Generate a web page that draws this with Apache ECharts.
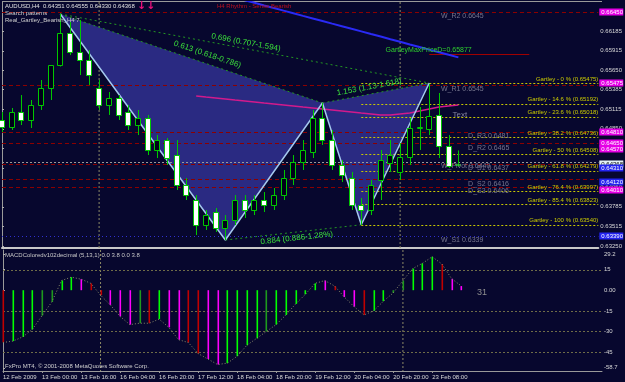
<!DOCTYPE html>
<html>
<head>
<meta charset="utf-8">
<script src="https://cdn.jsdelivr.net/npm/echarts/dist/echarts.min.js"></script>
<style>
html,body{margin:0;padding:0;background:#07072e;overflow:hidden}
#chart{width:625px;height:382px}
</style>
</head>
<body>
<div id="chart"></div>
<script>
// ---------------- data ----------------
const times = ['12 Feb 2009','12 Feb 12:00','12 Feb 16:00','12 Feb 20:00','13 Feb 00:00','13 Feb 04:00','13 Feb 08:00','13 Feb 12:00','13 Feb 16:00','13 Feb 20:00',
 '15 Feb 20:00','16 Feb 00:00','16 Feb 04:00','16 Feb 08:00','16 Feb 12:00','16 Feb 16:00','16 Feb 20:00','17 Feb 00:00','17 Feb 04:00','17 Feb 08:00',
 '17 Feb 12:00','17 Feb 16:00','17 Feb 20:00','18 Feb 00:00','18 Feb 04:00','18 Feb 08:00','18 Feb 12:00','18 Feb 16:00','18 Feb 20:00','19 Feb 00:00',
 '19 Feb 04:00','19 Feb 08:00','19 Feb 12:00','19 Feb 16:00','19 Feb 20:00','20 Feb 00:00','20 Feb 04:00','20 Feb 08:00','20 Feb 12:00','20 Feb 16:00',
 '20 Feb 20:00','22 Feb 20:00','23 Feb 00:00','23 Feb 04:00','23 Feb 08:00','23 Feb 12:00','23 Feb 16:00','23 Feb 20:00'];
const opens  = [0.64970,0.64875,0.65079,0.64970,0.65175,0.65407,0.65721,0.66158,0.65898,0.65789,0.65407,0.65175,0.65271,0.65079,0.64902,0.64997,0.64561,0.64697,0.64492,0.64083,
 0.63878,0.63537,0.63714,0.63496,0.63605,0.63878,0.63742,0.63878,0.63810,0.63946,0.64178,0.64397,0.64533,0.64997,0.64697,0.64356,0.64178,0.63810,0.63742,0.64151,
 0.64383,0.64260,0.64465,0.64861,0.64847,0.65039,0.64615,0.64351];
const highs  = [0.65079,0.65134,0.65311,0.65243,0.65516,0.65721,0.66417,0.66308,0.66335,0.65926,0.65516,0.65352,0.65311,0.65175,0.65107,0.65039,0.64765,0.64724,0.64697,0.64178,
 0.63946,0.63742,0.63769,0.63673,0.63946,0.63946,0.63946,0.63987,0.64042,0.64288,0.64492,0.64697,0.65107,0.65202,0.64834,0.64424,0.64260,0.63905,0.64151,0.64561,
 0.64697,0.64656,0.64997,0.65147,0.65462,0.65339,0.64765,0.64555];
const lows   = [0.64806,0.64834,0.64902,0.64861,0.65107,0.65243,0.65700,0.65857,0.65584,0.65448,0.65107,0.65039,0.64970,0.64834,0.64765,0.64492,0.64451,0.64356,0.64015,0.63878,
 0.63400,0.63469,0.63441,0.63332,0.63537,0.63632,0.63673,0.63714,0.63742,0.63878,0.64083,0.64288,0.64451,0.64629,0.64288,0.64124,0.63742,0.63537,0.63673,0.63878,
 0.64260,0.64151,0.64356,0.64561,0.64765,0.64451,0.64315,0.64330];
const closes = [0.64875,0.65079,0.64970,0.65175,0.65407,0.65721,0.66158,0.65898,0.65789,0.65584,0.65175,0.65271,0.65039,0.64902,0.64997,0.64561,0.64697,0.64451,0.64083,0.63946,
 0.63537,0.63673,0.63496,0.63605,0.63878,0.63742,0.63878,0.63810,0.63946,0.64178,0.64397,0.64561,0.64997,0.64697,0.64356,0.64219,0.63810,0.63742,0.64083,0.64424,
 0.64492,0.64465,0.64861,0.64875,0.65025,0.64615,0.64342,0.64368];
const maBlue = [null,null,null,null,null,null,null,null,null,null,null,null,null,null,null,null,null,null,null,null,null,null,null,null,
 0.66641,0.66606,0.66570,0.66534,0.66499,0.66463,0.66428,0.66392,0.66357,0.66322,0.66286,0.66251,0.66215,0.66180,0.66144,0.66109,0.66073,0.66038,0.66002,0.65967,0.65931,0.65896,0.65860,0.65825];
const maPink = [null,null,null,null,null,null,null,null,null,null,null,null,null,null,null,null,null,null,null,null,
 0.65298,0.65284,0.65271,0.65257,0.65243,0.65230,0.65216,0.65202,0.65189,0.65175,0.65161,0.65147,0.65134,0.65120,0.65107,0.65093,0.65079,0.65065,0.65052,0.65038,0.65038,0.65052,0.65065,0.65093,0.65120,0.65147,0.65161,0.65175];
const macdValues = [-38,-37,-34,-28.6,-18.5,-8.6,7,9.5,8,5,-3.6,-10.7,-19,-25,-24,-24,-21,-27,-36,-38,
 -46,-50,-54,-53,-48,-40,-35,-30,-25,-18,-10,-3,5,7,3,-5,-12,-18,-15,-8,-2,7,15.7,19.5,24.3,19,8.3,3];
const macdColors = ['R','L','L','L','G','G','L','L','M','R','R','M','M','M','G','R','L','M','M','R',
 'R','M','M','L','L','L','L','G','L','L','L','L','L','M','R','M','M','R','L','L','G','G','L','L','L','R','M','M'];
const priceTicks = [0.66185,0.65915,0.65650,0.65385,0.65115,0.64850,0.64585,0.64315,0.64050,0.63785,0.63515,0.63250];
const priceRange = [0.63223,0.66581];
const macdTicks = [15,0,-15,-30,-45];
const macdRange = [-58.7,29.2];
const timeLabelBars = [0,4,8,12,16,20,24,28,32,36,40,44];
const weekSeparators = [10,41];

// Gartley XABCD
const patternBars = [6,23,33,37,44];
const patternPrices = [0.66417,0.63332,0.65202,0.63540,0.65475];
const ratioPairs = [[0,2],[0,4],[2,4],[1,3]];
const ratioTexts = ['0.613 (0.618-0.786)','0.696 (0.707-1.594)','1.153 (1.13-1.618)','0.884 (0.886-1.28%)'];
const fibNames = ['0','14.6','23.6','38.2','50','61.8','76.4','85.4','100'];
const fibPrices = [0.65475,0.65192,0.65018,0.64736,0.64508,0.64279,0.63997,0.63823,0.63540];
const fibStartBar = 37;
const maxPriceD = 0.65877;

// pivots
const pivotNames  = ['W_R2','W_R1','D_R3','D_R2','W_Pivot','D_S1','D_S2','D_S3','W_S1'];
const pivotPrices = [0.6645,0.6545,0.6481,0.6465,0.6440,0.6437,0.6416,0.6406,0.6339];
const pivotKinds  = ['W','W','D','D','P','D','D','D','S'];

// price boxes on the axis
const boxPrices = [0.66450,0.65475,0.64810,0.64650,0.64570,0.64368,0.64310,0.64120,0.64010,0.63390];
const boxKinds  = ['M','M','M','M','M','W','B','B','M','B'];

// ---------------- layout / style ----------------
const FONT = 'Liberation Sans, Arial, sans-serif';
const BG = '#07072e';
const N = opens.length;
const XMAX = 61.41;
const gridMain = {left:2, top:2, width:600, height:246};
const gridMacd = {left:2, top:250, width:600, height:121};
const macdColorMap = {L:'#00ff00', G:'#1e9a1e', R:'#c00000', M:'#ff00ff'};
const boxColorMap = {M:'#e600e6', B:'#2424f0', W:'#e4f2f6'};

const chart = echarts.init(document.getElementById('chart'));

const candleData = opens.map((o,i)=>[i,o,closes[i],lows[i],highs[i]]);
const triData = [
  [patternBars[0],patternPrices[0],patternBars[1],patternPrices[1],patternBars[2],patternPrices[2]],
  [patternBars[2],patternPrices[2],patternBars[3],patternPrices[3],patternBars[4],patternPrices[4]]
];
const ratioData = ratioPairs.map(p=>[patternBars[p[0]],patternPrices[p[0]],patternBars[p[1]],patternPrices[p[1]]]);
const ratioPlace = [[0.55,9],[0.50,6],[0.45,7],[0.52,-6]];

const levelStyles = {
  W:{stroke:'#8b0000', lineDash:[4,3]},
  D:{stroke:'#8b0000', lineDash:[4,3]},
  P:{stroke:'#9a9a9a', lineDash:[2,2]},
  S:{stroke:'#3030d0', lineDash:[1,3]},
  F:{stroke:'#c8c800', lineDash:[2,2]},
  X:{stroke:'#a00000', lineDash:null}
};
const levelData = [];
const levelKinds = [];
pivotPrices.forEach((p,i)=>{ levelData.push([0,XMAX,p]); levelKinds.push(pivotKinds[i]); });
fibPrices.forEach(p=>{ levelData.push([fibStartBar,XMAX,p]); levelKinds.push('F'); });
levelData.push([44,54.3,maxPriceD]); levelKinds.push('X');

const annoData = [], annoText = [], annoStyle = [];
pivotNames.forEach((n,i)=>{
  annoData.push([pivotKinds[i]==='D'?48:45.2, pivotPrices[i]]);
  annoText.push(n+' '+pivotPrices[i].toFixed(4));
  annoStyle.push({fill:'#76768e', fontSize:7, align:'left', verticalAlign:'top', dy:1});
});
fibNames.forEach((n,i)=>{
  annoData.push([XMAX, fibPrices[i]]);
  annoText.push('Gartley - '+n+' % ('+fibPrices[i].toFixed(5)+')');
  annoStyle.push({fill:'#cccc00', fontSize:6, align:'right', verticalAlign:'bottom', dy:-1});
});
annoData.push([39.5, maxPriceD]); annoText.push('GartleyMaxPriceD='+maxPriceD.toFixed(5));
annoStyle.push({fill:'#2ed02e', fontSize:7, align:'left', verticalAlign:'bottom', dy:0});
annoData.push([46.4, 0.6504]); annoText.push('Text');
annoStyle.push({fill:'#8484a0', fontSize:8, align:'left', verticalAlign:'middle', dy:0});

function txt(x,y,t,fill,size,align,va,font,weight){
  return {type:'text', x:x, y:y, z:100, style:{text:t, fill:fill, fontSize:size, fontFamily:font||FONT, fontWeight:weight||'normal', align:align||'left', verticalAlign:va||'middle'}};
}

const option = {
  backgroundColor: BG,
  animation: false,
  grid: [gridMain, gridMacd],
  xAxis: [
    {type:'value', gridIndex:0, min:0, max:XMAX, axisLine:{show:true, onZero:false, lineStyle:{color:'#c8c8c8', width:2}}, axisTick:{show:false}, axisLabel:{show:false}, splitLine:{show:false}},
    {type:'value', gridIndex:1, min:0, max:XMAX, axisLine:{show:true, onZero:false, lineStyle:{color:'#9a9a9a'}},
      axisTick:{show:true, customValues:timeLabelBars, length:2, lineStyle:{color:'#9a9a9a'}},
      axisLabel:{show:true, customValues:timeLabelBars, formatter:v=>times[Math.round(v)]||'', color:'#d8d8d8', fontSize:6, fontFamily:FONT, align:'left', margin:3},
      splitLine:{show:false}}
  ],
  yAxis: [
    {type:'value', gridIndex:0, position:'right', min:priceRange[0], max:priceRange[1], scale:true,
      axisLine:{show:true, lineStyle:{color:'#9a9a9a'}}, axisTick:{show:true, customValues:priceTicks, length:2, lineStyle:{color:'#b0b0b0'}},
      axisLabel:{show:true, customValues:priceTicks, formatter:v=>v.toFixed(5), color:'#d8d8d8', fontSize:6, fontFamily:FONT, margin:2},
      splitLine:{show:false}},
    {type:'value', gridIndex:1, position:'right', min:macdRange[0], max:macdRange[1],
      axisLine:{show:true, lineStyle:{color:'#9a9a9a'}}, axisTick:{show:true, customValues:[26.3].concat(macdTicks,[-56.4]), length:2, lineStyle:{color:'#b0b0b0'}},
      axisLabel:{show:true, customValues:[26.3].concat(macdTicks,[-56.4]), formatter:v=>(v>20?macdRange[1].toFixed(1):(v<-50?macdRange[0].toFixed(1):(v===0?'0.00':String(v)))), color:'#d8d8d8', fontSize:6, fontFamily:FONT, margin:2},
      splitLine:{show:false}}
  ],
  series: [
    {type:'custom', xAxisIndex:0, yAxisIndex:0, data:weekSeparators.map(w=>[w]), silent:true, z:1,
      renderItem:(p,api)=>{ const x=api.coord([api.value(0),priceRange[1]])[0]; const cs=p.coordSys;
        return {type:'line', shape:{x1:x,y1:cs.y,x2:x,y2:cs.y+cs.height}, style:{stroke:'#8c8a66', lineDash:[2,2], lineWidth:1}}; }},
    {type:'custom', xAxisIndex:1, yAxisIndex:1, data:weekSeparators.map(w=>[w]), silent:true, z:1,
      renderItem:(p,api)=>{ const x=api.coord([api.value(0),0])[0]; const cs=p.coordSys;
        return {type:'line', shape:{x1:x,y1:cs.y,x2:x,y2:cs.y+cs.height}, style:{stroke:'#8c8a66', lineDash:[2,2], lineWidth:1}}; }},
    {type:'custom', xAxisIndex:0, yAxisIndex:0, data:triData, silent:true, z:2, encode:{x:[0,2,4], y:[1,3,5]},
      renderItem:(p,api)=>{ const pts=[0,2,4].map(k=>api.coord([api.value(k),api.value(k+1)]));
        return {type:'polygon', shape:{points:pts}, style:{fill:'#2a2a82'}}; }},
    {type:'custom', xAxisIndex:0, yAxisIndex:0, data:levelData, silent:true, z:3, clip:true,
      renderItem:(p,api)=>{ const a=api.coord([api.value(0),api.value(2)]), b=api.coord([api.value(1),api.value(2)]);
        const s=levelStyles[levelKinds[p.dataIndex]];
        return {type:'line', shape:{x1:a[0],y1:Math.round(a[1])+0.5,x2:b[0],y2:Math.round(a[1])+0.5}, style:{stroke:s.stroke, lineDash:s.lineDash, lineWidth:1}}; }},
    {type:'line', xAxisIndex:0, yAxisIndex:0, data:maBlue.map((v,i)=>[i,v]), showSymbol:false, symbol:'none', connectNulls:false, lineStyle:{color:'#2a2af5', width:2}, z:4, silent:true},
    {type:'line', xAxisIndex:0, yAxisIndex:0, data:maPink.map((v,i)=>[i,v]), showSymbol:false, symbol:'none', connectNulls:false, lineStyle:{color:'#d21a8c', width:1.5}, z:4, silent:true},
    {type:'custom', xAxisIndex:0, yAxisIndex:0, data:ratioData, silent:true, z:5, encode:{x:[0,2], y:[1,3]},
      renderItem:(p,api)=>{ const a=api.coord([api.value(0),api.value(1)]), b=api.coord([api.value(2),api.value(3)]);
        const ang=Math.atan2(b[1]-a[1], b[0]-a[0]); const pl=ratioPlace[p.dataIndex];
        const mx=a[0]+(b[0]-a[0])*pl[0], my=a[1]+(b[1]-a[1])*pl[0];
        const nx=Math.sin(ang)*pl[1], ny=-Math.cos(ang)*pl[1];
        return {type:'group', children:[
          {type:'line', shape:{x1:a[0],y1:a[1],x2:b[0],y2:b[1]}, style:{stroke:'#239623', lineDash:[2,3], lineWidth:1}},
          {type:'text', x:mx+nx, y:my+ny, rotation:-ang, style:{text:ratioTexts[p.dataIndex], fill:'#3be03b', fontSize:8, fontFamily:FONT, align:'center', verticalAlign:'middle'}}
        ]}; }},
    {type:'line', xAxisIndex:0, yAxisIndex:0, data:patternBars.map((b,i)=>[b,patternPrices[i]]), showSymbol:false, symbol:'none', lineStyle:{color:'#a4c8ee', width:1.5}, z:6, silent:true},
    {type:'custom', xAxisIndex:0, yAxisIndex:0, data:candleData, silent:true, z:7, encode:{x:0, y:[1,2,3,4]},
      renderItem:(p,api)=>{
        const x=api.value(0), o=api.value(1), c=api.value(2), l=api.value(3), h=api.value(4);
        const po=api.coord([x,o]), pc=api.coord([x,c]), pl=api.coord([x,l]), ph=api.coord([x,h]);
        const w=Math.max(3, Math.round(api.size([1,0])[0]*0.6));
        const cx=Math.round(po[0])+0.5;
        const top=Math.round(Math.min(po[1],pc[1]))+0.5, bot=Math.round(Math.max(po[1],pc[1]))+0.5;
        const bull=c>=o;
        return {type:'group', children:[
          {type:'line', shape:{x1:cx,y1:ph[1],x2:cx,y2:pl[1]}, style:{stroke:'#00c800', lineWidth:1}},
          {type:'rect', shape:{x:cx-Math.floor(w/2), y:top, width:w-1, height:Math.max(bot-top,1)}, style:{fill:bull?'#000018':'#ffffff', stroke:'#00c800', lineWidth:1}}
        ]}; }},
    {type:'custom', xAxisIndex:0, yAxisIndex:0, data:annoData, silent:true, z:8, clip:false,
      renderItem:(p,api)=>{ const a=api.coord([api.value(0),api.value(1)]); const s=annoStyle[p.dataIndex];
        return {type:'text', x:a[0], y:a[1]+s.dy, style:{text:annoText[p.dataIndex], fill:s.fill, fontSize:s.fontSize, fontFamily:FONT, align:s.align, verticalAlign:s.verticalAlign}}; }},
    {type:'custom', xAxisIndex:0, yAxisIndex:0, data:boxPrices.map(v=>[XMAX,v]), silent:true, z:9, clip:false,
      renderItem:(p,api)=>{ const a=api.coord([api.value(0),api.value(1)]); const k=boxKinds[p.dataIndex];
        return {type:'group', children:[
          {type:'rect', shape:{x:a[0]+1, y:Math.round(a[1])-3.5, width:24, height:7}, style:{fill:boxColorMap[k]}},
          {type:'text', x:a[0]+3, y:Math.round(a[1]), style:{text:api.value(1).toFixed(5), fill:k==='W'?'#000000':'#ffffff', fontSize:6, fontFamily:FONT, align:'left', verticalAlign:'middle'}}
        ]}; }},
    {type:'custom', xAxisIndex:1, yAxisIndex:1, data:macdValues.map((v,i)=>[i,v]), silent:true, z:3,
      renderItem:(p,api)=>{ const a=api.coord([api.value(0),0]), b=api.coord([api.value(0),api.value(1)]);
        const x=Math.round(a[0]);
        return {type:'rect', shape:{x:x-0.5, y:Math.min(a[1],b[1]), width:1.6, height:Math.abs(b[1]-a[1])}, style:{fill:macdColorMap[macdColors[p.dataIndex]]}}; }},
    {type:'line', xAxisIndex:1, yAxisIndex:1, data:macdValues.map((v,i)=>[i,v]), showSymbol:false, symbol:'none', lineStyle:{color:'#8a8a6a', width:1, type:[1,2]}, z:4, silent:true},
    {type:'custom', xAxisIndex:1, yAxisIndex:1, data:macdTicks.filter(v=>v!==0).map(v=>[v]), silent:true, z:2,
      renderItem:(p,api)=>{ const cs=p.coordSys; const y=Math.round(api.coord([0,api.value(0)])[1])+0.5;
        return {type:'line', shape:{x1:cs.x,y1:y,x2:cs.x+cs.width,y2:y}, style:{stroke:'#6e6c48', lineDash:[2,2], lineWidth:1}}; }},
    {type:'custom', xAxisIndex:1, yAxisIndex:1, data:[[N+0.6, 0]], silent:true, z:5, clip:false,
      renderItem:(p,api)=>{ const a=api.coord([api.value(0),api.value(1)]);
        return {type:'text', x:a[0], y:a[1]+2, style:{text:'31', fill:'#8e8e8e', fontSize:9, fontFamily:FONT, align:'left', verticalAlign:'middle'}}; }}
  ],
  graphic: [
    {type:'line', shape:{x1:2,y1:1.5,x2:602,y2:1.5}, style:{stroke:'#9a9a9a', lineWidth:1}, silent:true},
    txt(5,6,'AUDUSD,H4  0.64351 0.64555 0.64330 0.64368','#e0e0e0',6),
    txt(5,13,'Search patterns','#d0d0d0',6),
    txt(5,20,'Real_Gartley_Bearish_H4 7','#d0d0d0',6),
    txt(137,6,'↓↓','#e8107a',11,'left','middle','DejaVu Sans','bold'),
    txt(217,6,'H4 Rhythm - Sense Bearish','#c01020',6),
    txt(5,255,'MACDColoredv102decimal (5,13,1) 0.0 3.8 0.0 3.8','#c8c8c8',6),
    txt(5,366,'FxPro MT4, © 2001-2008 MetaQuotes Software Corp.','#d0d0d0',6)
  ]
};
chart.setOption(option);
</script>
</body>
</html>
